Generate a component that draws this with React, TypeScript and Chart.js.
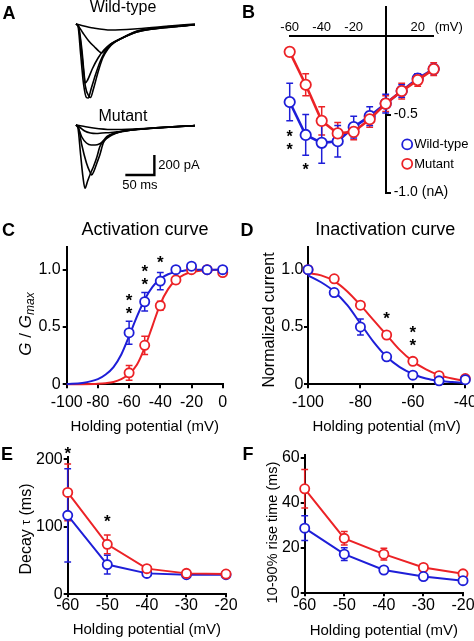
import React, { useEffect, useRef } from 'react';
import { Chart, registerables } from 'chart.js';
Chart.register(...registerables);

const FONT = "'Liberation Sans', Arial, Helvetica, sans-serif";
const BLUE = '#1e1ed8';
const RED = '#ec2226';

type Pt = [number, number];

// ---------- Panel A: current traces (time ms, current pA) ----------
const WT_TRACE_1: Pt[] = [[0,0],[3.4,-20],[8,-300],[13,-600],[18,-735],[21,-740],[26,-650],[34,-500],[42,-370],[50,-280],[60,-210],[76,-150],[105,-70],[153,-30],[205,-5]];
const WT_TRACE_2: Pt[] = [[0,0],[4,-20],[10,-300],[16,-620],[22,-720],[25,-735],[30,-650],[38,-480],[46,-340],[55,-250],[65,-190],[80,-140],[105,-75],[153,-35],[205,-8]];
const WT_TRACE_3: Pt[] = [[0,0],[4,-20],[10,-250],[14,-500],[16,-590],[20,-560],[28,-450],[38,-340],[48,-260],[60,-200],[76,-150],[105,-80],[153,-35],[205,-8]];
const WT_TRACE_4: Pt[] = [[0,0],[4,-20],[12,-90],[22,-170],[32,-230],[40,-275],[44,-290],[50,-260],[60,-200],[76,-150],[105,-80],[153,-38],[205,-10]];
const WT_TRACE_5: Pt[] = [[0,0],[10,-15],[30,-40],[60,-60],[100,-50],[150,-25],[205,0]];
const MUT_TRACE_1: Pt[] = [[0,0],[3,-20],[8,-300],[12,-520],[15.5,-633],[20,-560],[26,-470],[30,-417],[36,-320],[41,-217],[47,-160],[53,-117],[60,-95],[76,-67],[133,-30],[205,-5]];
const MUT_TRACE_2: Pt[] = [[0,0],[4,-20],[10,-200],[18,-380],[24,-470],[27,-500],[31,-460],[36,-380],[41,-300],[47,-180],[53,-130],[59,-100],[76,-67],[133,-32],[205,-6]];
const MUT_TRACE_3: Pt[] = [[0,0],[4,-30],[10,-120],[18,-180],[26,-200],[33,-200],[40,-190],[47,-160],[55,-125],[62,-100],[76,-70],[133,-33],[205,-7]];
const MUT_TRACE_4: Pt[] = [[0,0],[6,-20],[15,-60],[25,-80],[35,-85],[45,-80],[60,-75],[76,-65],[133,-30],[205,-6]];
const MUT_TRACE_5: Pt[] = [[0,0],[10,-10],[30,-30],[60,-45],[100,-40],[150,-25],[205,-5]];
const WT_TRACES = [WT_TRACE_1, WT_TRACE_2, WT_TRACE_3, WT_TRACE_4, WT_TRACE_5];
const MUT_TRACES = [MUT_TRACE_1, MUT_TRACE_2, MUT_TRACE_3, MUT_TRACE_4, MUT_TRACE_5];
const SCALE_BAR_T = [85, 135, 135];
const SCALE_BAR_PA = [-500, -500, -300];

// ---------- Panel B: I-V ----------
const B_V = [-60, -50, -40, -30, -20, -10, 0, 10, 20, 30];
const B_WT = [-0.42, -0.63, -0.68, -0.67, -0.58, -0.51, -0.43, -0.35, -0.27, -0.21];
const B_WT_ERR = [0.12, 0.13, 0.13, 0.1, 0.07, 0.06, 0.06, 0.04, 0.03, 0.03];
const B_MUT = [-0.10, -0.31, -0.54, -0.62, -0.61, -0.53, -0.43, -0.35, -0.28, -0.21];
const B_MUT_ERR = [0, 0.07, 0.09, 0.07, 0.05, 0.05, 0.05, 0.05, 0.04, 0.04];
const B_X_TICKS = [-60, -40, -20, 20];
const B_Y_TICKS = [-0.5, -1.0];
const B_STARS: Pt[] = [[-60, -0.62], [-60, -0.70], [-50, -0.83]];

// ---------- Panel C: activation ----------
const C_V = [-60, -50, -40, -30, -20, -10, 0];
const C_WT = [0.45, 0.72, 0.90, 1.0, 1.03, 1.0, 1.0];
const C_WT_ERR = [0.10, 0.08, 0.075, 0.02, 0.02, 0.02, 0.02];
const C_MUT = [0.10, 0.34, 0.685, 0.91, 1.0, 1.0, 0.975];
const C_MUT_ERR = [0.065, 0.08, 0.04, 0.03, 0.02, 0.02, 0.02];
const C_FIT_V = [-100, -90, -80, -75, -70, -65, -60, -55, -50, -45, -40, -35, -30, -25, -20, -10, 0];
const C_FIT_WT = [0.003, 0.012, 0.045, 0.085, 0.15, 0.26, 0.42, 0.59, 0.74, 0.85, 0.92, 0.96, 0.98, 0.99, 1.0, 1.0, 1.0];
const C_FIT_MUT = [0, 0.001, 0.005, 0.01, 0.02, 0.045, 0.09, 0.17, 0.32, 0.51, 0.70, 0.83, 0.91, 0.955, 0.98, 0.995, 1.0];
const C_X_TICKS = [-100, -80, -60, -40, -20, 0];
const C_Y_TICKS = [0, 0.5, 1.0];
const C_STARS: Pt[] = [[-60, 0.767], [-60, 0.656], [-50, 1.02], [-50, 0.907], [-40, 1.093]];

// ---------- Panel D: inactivation ----------
const D_V = [-100, -90, -80, -70, -60, -50, -40];
const D_WT = [1.0, 0.80, 0.50, 0.24, 0.08, 0.03, 0.04];
const D_WT_ERR = [0.01, 0.03, 0.07, 0.02, 0.02, 0.01, 0.02];
const D_MUT = [1.0, 0.92, 0.69, 0.43, 0.20, 0.075, 0.05];
const D_MUT_ERR = [0.01, 0.02, 0.03, 0.02, 0.02, 0.01, 0.02];
const D_FIT_V = [-100, -95, -90, -85, -80, -75, -70, -65, -60, -55, -50, -45, -40];
const D_FIT_WT = [0.95, 0.89, 0.81, 0.69, 0.53, 0.37, 0.24, 0.15, 0.09, 0.05, 0.03, 0.02, 0.01];
const D_FIT_MUT = [0.97, 0.95, 0.90, 0.81, 0.69, 0.56, 0.43, 0.30, 0.20, 0.13, 0.08, 0.05, 0.03];
const D_X_TICKS = [-100, -80, -60, -40];
const D_Y_TICKS = [0, 0.5, 1.0];
const D_STARS: Pt[] = [[-70, 0.606], [-60, 0.49], [-60, 0.373]];

// ---------- Panel E: decay tau ----------
const E_V = [-60, -50, -40, -30, -20];
const E_WT = [117, 44, 31, 29, 29];
const E_WT_ERR = [69, 14, 3, 2, 2];
const E_MUT = [151, 74, 38, 31, 30];
const E_MUT_ERR = [42, 14, 4, 2, 2];
const E_X_TICKS = [-60, -50, -40, -30, -20];
const E_Y_TICKS = [0, 100, 200];
const E_STARS: Pt[] = [[-60, 214], [-50, 114]];

// ---------- Panel F: rise time ----------
const F_V = [-60, -50, -40, -30, -20];
const F_WT = [28.8, 17.3, 10.3, 7.4, 5.6];
const F_WT_ERR = [5.5, 2.8, 1, 1, 0.8];
const F_MUT = [46.2, 24.3, 17.3, 11.4, 8.6];
const F_MUT_ERR = [8.5, 3, 2.6, 1, 1];
const F_X_TICKS = [-60, -50, -40, -30, -20];
const F_Y_TICKS = [0, 20, 40, 60];

// ---------- helpers ----------
const f = (size: number, style = '') => `${style} ${size}px ${FONT}`.trim();

const errorBarPlugin = {
  id: 'errbars',
  beforeDatasetsDraw(chart: any) {
    const ctx = chart.ctx;
    chart.data.datasets.forEach((ds: any, i: number) => {
      const errs = ds.errors;
      if (!errs) return;
      const meta = chart.getDatasetMeta(i);
      const xs = chart.scales[meta.xAxisID];
      const ys = chart.scales[meta.yAxisID];
      ctx.save();
      ctx.strokeStyle = ds.borderColor;
      ctx.lineWidth = 1.5;
      ds.data.forEach((p: any, j: number) => {
        const e = errs[j];
        if (!e) return;
        const x = xs.getPixelForValue(p.x);
        const y1 = ys.getPixelForValue(p.y + e);
        const y2 = ys.getPixelForValue(p.y - e);
        ctx.beginPath();
        ctx.moveTo(x, y1); ctx.lineTo(x, y2);
        ctx.moveTo(x - 3.4, y1); ctx.lineTo(x + 3.4, y1);
        ctx.moveTo(x - 3.4, y2); ctx.lineTo(x + 3.4, y2);
        ctx.stroke();
      });
      ctx.restore();
    });
  },
};

function drawStars(chart: any, stars: Pt[], size: number) {
  const ctx = chart.ctx;
  const xs = chart.scales.x, ys = chart.scales.y;
  ctx.save();
  ctx.fillStyle = '#000';
  ctx.font = f(size, 'bold');
  ctx.textAlign = 'center';
  ctx.textBaseline = 'alphabetic';
  stars.forEach(([vx, vy]) => ctx.fillText('*', xs.getPixelForValue(vx), ys.getPixelForValue(vy) + 0.56 * size));
  ctx.restore();
}

type Part = { text: string; font: string; dy?: number };
function drawVText(ctx: CanvasRenderingContext2D, cx: number, cy: number, parts: Part[]) {
  ctx.save();
  ctx.translate(cx, cy);
  ctx.rotate(-Math.PI / 2);
  ctx.fillStyle = '#000';
  ctx.textBaseline = 'middle';
  ctx.textAlign = 'left';
  let total = 0;
  parts.forEach((p) => { ctx.font = p.font; total += ctx.measureText(p.text).width; });
  let x = -total / 2;
  parts.forEach((p) => { ctx.font = p.font; ctx.fillText(p.text, x, p.dy || 0); x += ctx.measureText(p.text).width; });
  ctx.restore();
}

function series(label: string, xs: number[], ys: number[], errs: number[] | null, color: string, lw: number, r: number) {
  return {
    label,
    data: xs.map((x, i) => ({ x, y: ys[i] })),
    errors: errs,
    borderColor: color,
    backgroundColor: '#fff',
    pointBackgroundColor: '#fff',
    pointBorderColor: color,
    pointRadius: r,
    pointBorderWidth: 1.8,
    borderWidth: lw,
    showLine: true,
    clip: false,
  };
}
function points(label: string, xs: number[], ys: number[], errs: number[], color: string) {
  return { ...series(label, xs, ys, errs, color, 2, 4.6), showLine: false };
}
function fit(label: string, xs: number[], ys: number[], color: string) {
  return {
    label,
    data: xs.map((x, i) => ({ x, y: ys[i] })),
    borderColor: color,
    borderWidth: 2,
    pointRadius: 0,
    showLine: true,
    cubicInterpolationMode: 'monotone',
    clip: false,
  };
}

function xAxis(min: number, max: number, ticks: number[], height: number, tickLen: number, tickPad: number, titlePad: number) {
  return {
    type: 'linear', min, max, position: 'bottom',
    border: { display: true, color: '#000', width: 2 },
    grid: { display: true, drawOnChartArea: false, drawTicks: true, tickLength: tickLen, color: '#000', lineWidth: 2 },
    ticks: { color: '#000', font: { family: FONT, size: 16 }, padding: tickPad, maxRotation: 0, autoSkip: false, callback: (v: number) => String(v) },
    title: { display: true, text: 'Holding potential (mV)', color: '#000', font: { family: FONT, size: 15 }, padding: { top: 0, bottom: titlePad } },
    afterBuildTicks: (s: any) => { s.ticks = ticks.map((value) => ({ value })); },
    afterFit: (s: any) => { s.height = height; s.paddingLeft = 0; s.paddingRight = 0; },
  };
}
function yAxis(min: number, max: number, ticks: number[], width: number, tickPad: number, fmt: (v: number) => string) {
  return {
    type: 'linear', min, max, position: 'left',
    border: { display: true, color: '#000', width: 2 },
    grid: { display: true, drawOnChartArea: false, drawTicks: true, tickLength: 4, color: '#000', lineWidth: 2 },
    ticks: { color: '#000', font: { family: FONT, size: 16 }, padding: tickPad, callback: fmt },
    afterBuildTicks: (s: any) => { s.ticks = ticks.map((value) => ({ value })); },
    afterFit: (s: any) => { s.width = width; s.paddingTop = 0; s.paddingBottom = 0; },
  };
}

const baseOptions = (padding: any) => ({
  responsive: false,
  animation: false,
  events: [],
  layout: { padding },
  plugins: { legend: { display: false }, tooltip: { enabled: false }, title: { display: false } },
});

// ---------- chart configs ----------
function makeA(): any {
  const tr = (t: Pt[], axis: string) => ({
    data: t.map(([x, y]) => ({ x, y })), yAxisID: axis, borderColor: '#000', borderWidth: 1.6,
    pointRadius: 0, showLine: true, cubicInterpolationMode: 'monotone', clip: false,
  });
  return {
    type: 'scatter',
    data: {
      datasets: [
        ...WT_TRACES.map((t) => tr(t, 'yWT')),
        ...MUT_TRACES.map((t) => tr(t, 'yMut')),
        { data: SCALE_BAR_T.map((x, i) => ({ x, y: SCALE_BAR_PA[i] })), yAxisID: 'yMut', borderColor: '#000', borderWidth: 2.4, pointRadius: 0, showLine: true, tension: 0, clip: false },
      ],
    },
    options: {
      ...baseOptions({ left: 76, right: 42, top: 0, bottom: 0 }),
      scales: {
        x: { type: 'linear', display: false, min: 0, max: 205 },
        y: { type: 'linear', display: false },
        yWT: { type: 'linear', display: false, min: -1760, max: 240 },
        yMut: { type: 'linear', display: false, min: -750, max: 1250 },
      },
    },
    plugins: [{
      id: 'aText',
      afterDatasetsDraw(chart: any) {
        const ctx = chart.ctx;
        const xs = chart.scales.x, ym = chart.scales.yMut;
        ctx.save();
        ctx.fillStyle = '#000';
        ctx.font = f(13);
        ctx.textBaseline = 'middle';
        ctx.textAlign = 'left';
        ctx.fillText('200 pA', xs.getPixelForValue(SCALE_BAR_T[2]) + 4, ym.getPixelForValue((SCALE_BAR_PA[1] + SCALE_BAR_PA[2]) / 2));
        ctx.textAlign = 'center';
        ctx.fillText('50 ms', (xs.getPixelForValue(SCALE_BAR_T[0]) + xs.getPixelForValue(SCALE_BAR_T[1])) / 2, ym.getPixelForValue(SCALE_BAR_PA[0]) + 10);
        ctx.font = f(16);
        ctx.fillText('Wild-type', 123, 8);
        ctx.fillText('Mutant', 123, 117);
        ctx.restore();
      },
    }],
  };
}

function makeB(): any {
  return {
    type: 'scatter',
    data: {
      datasets: [
        series('Mutant', B_V, B_MUT, B_MUT_ERR, RED, 2.6, 5.2),
        series('Wild-type', B_V, B_WT, B_WT_ERR, BLUE, 2.6, 5.2),
      ],
    },
    options: {
      ...baseOptions({ left: 52.7, right: 40.3, top: 3.3, bottom: 7 }),
      scales: {
        x: {
          type: 'linear', min: -60, max: 30, position: { y: 0 },
          border: { display: true, color: '#000', width: 2 },
          grid: { display: false },
          ticks: { display: false },
          afterBuildTicks: (s: any) => { s.ticks = B_X_TICKS.map((value) => ({ value })); },
          afterFit: (s: any) => { s.height = 0; s.paddingLeft = 0; s.paddingRight = 0; },
        },
        y: {
          type: 'linear', min: -1.0, max: 0.186, position: { x: 0 },
          border: { display: true, color: '#000', width: 2 },
          grid: { display: true, drawOnChartArea: false, drawTicks: true, tickLength: -6, color: '#000', lineWidth: 2 },
          ticks: { display: false },
          afterBuildTicks: (s: any) => { s.ticks = B_Y_TICKS.map((value) => ({ value })); },
          afterFit: (s: any) => { s.width = 0; s.paddingTop = 0; s.paddingBottom = 0; },
        },
      },
    },
    plugins: [errorBarPlugin, {
      id: 'bText',
      afterDatasetsDraw(chart: any) {
        const ctx = chart.ctx;
        const xs = chart.scales.x, ys = chart.scales.y;
        const x0 = xs.getPixelForValue(0);
        const yAx = ys.getPixelForValue(0);
        ctx.save();
        ctx.fillStyle = '#000';
        ctx.textBaseline = 'middle';
        ctx.textAlign = 'center';
        ctx.font = f(13);
        B_X_TICKS.forEach((v) => ctx.fillText(String(v), xs.getPixelForValue(v), yAx - 9));
        ctx.textAlign = 'left';
        ctx.fillText('(mV)', xs.getPixelForValue(30) + 1, yAx - 9);
        ctx.font = f(14);
        ctx.fillText('-0.5', x0 + 8, ys.getPixelForValue(B_Y_TICKS[0]));
        ctx.fillText('-1.0 (nA)', x0 + 8, ys.getPixelForValue(B_Y_TICKS[1]) - 1);
        // legend
        const lx = chart.chartArea.right - 26.5;
        const ly = ys.getPixelForValue(-0.69);
        const items: [string, string][] = [['Wild-type', BLUE], ['Mutant', RED]];
        items.forEach(([label, color], k) => {
          const y = ly + k * 19.4;
          ctx.beginPath();
          ctx.arc(lx, y, 5, 0, Math.PI * 2);
          ctx.fillStyle = '#fff';
          ctx.fill();
          ctx.lineWidth = 1.8;
          ctx.strokeStyle = color;
          ctx.stroke();
          ctx.fillStyle = '#000';
          ctx.font = f(13);
          ctx.fillText(label, lx + 7, y + 0.5);
        });
        ctx.restore();
        drawStars(chart, B_STARS, 16);
      },
    }],
  };
}

function makeC(): any {
  return {
    type: 'scatter',
    data: {
      datasets: [
        points('Wild-type', C_V, C_WT, C_WT_ERR, BLUE),
        points('Mutant', C_V, C_MUT, C_MUT_ERR, RED),
        fit('Wild-type fit', C_FIT_V, C_FIT_WT, BLUE),
        fit('Mutant fit', C_FIT_V, C_FIT_MUT, RED),
      ],
    },
    options: {
      ...baseOptions({ left: 0, right: 14.3, top: 10.7, bottom: 0 }),
      scales: {
        x: xAxis(-100, 0, C_X_TICKS, 51.7, 4, 5, 0.5),
        y: yAxis(0, 1.2, C_Y_TICKS, 66.7, 2, (v) => (v === 0 ? '0' : v.toFixed(1))),
      },
    },
    plugins: [errorBarPlugin, {
      id: 'cText',
      afterDatasetsDraw(chart: any) {
        drawStars(chart, C_STARS, 17);
        drawVText(chart.ctx, 26.7, 88, [
          { text: 'G', font: f(17, 'italic') },
          { text: ' / ', font: f(17) },
          { text: 'G', font: f(17, 'italic') },
          { text: 'max', font: f(12, 'italic'), dy: 4 },
        ]);
      },
    }],
  };
}

function makeD(): any {
  return {
    type: 'scatter',
    data: {
      datasets: [
        points('Wild-type', D_V, D_WT, D_WT_ERR, BLUE),
        points('Mutant', D_V, D_MUT, D_MUT_ERR, RED),
        fit('Wild-type fit', D_FIT_V, D_FIT_WT, BLUE),
        fit('Mutant fit', D_FIT_V, D_FIT_MUT, RED),
      ],
    },
    options: {
      ...baseOptions({ left: 0, right: 8.7, top: 10.7, bottom: 0 }),
      scales: {
        x: xAxis(-100, -40, D_X_TICKS, 51.7, 4, 5, 0.5),
        y: yAxis(0, 1.2, D_Y_TICKS, 71, 0.5, (v) => (v === 0 ? '0' : v.toFixed(1))),
      },
    },
    plugins: [errorBarPlugin, {
      id: 'dText',
      afterDatasetsDraw(chart: any) {
        drawStars(chart, D_STARS, 17);
        drawVText(chart.ctx, 33, 84, [{ text: 'Normalized current', font: f(16) }]);
      },
    }],
  };
}

function makeE(): any {
  return {
    type: 'scatter',
    data: {
      datasets: [
        series('Mutant', E_V, E_MUT, E_MUT_ERR, RED, 2, 4.6),
        series('Wild-type', E_V, E_WT, E_WT_ERR, BLUE, 2, 4.6),
      ],
    },
    options: {
      ...baseOptions({ left: 0, right: 11, top: 16.6, bottom: 0 }),
      scales: {
        x: xAxis(-60, -20, E_X_TICKS, 46.7, 3, -1, 2),
        y: yAxis(0, 204, E_Y_TICKS, 67.7, 1, (v) => String(v)),
      },
    },
    plugins: [errorBarPlugin, {
      id: 'eText',
      afterDatasetsDraw(chart: any) {
        drawStars(chart, E_STARS, 17);
        drawVText(chart.ctx, 27, 89, [
          { text: 'Decay ', font: f(16) },
          { text: 'τ', font: f(12) },
          { text: ' (ms)', font: f(16) },
        ]);
      },
    }],
  };
}

function makeF(): any {
  return {
    type: 'scatter',
    data: {
      datasets: [
        series('Wild-type', F_V, F_WT, F_WT_ERR, BLUE, 2, 4.6),
        series('Mutant', F_V, F_MUT, F_MUT_ERR, RED, 2, 4.6),
      ],
    },
    options: {
      ...baseOptions({ left: 0, right: 11, top: 15.3, bottom: 0 }),
      scales: {
        x: xAxis(-60, -20, F_X_TICKS, 47.7, 3, 0, 1.3),
        y: yAxis(0, 61, F_Y_TICKS, 67.7, 1, (v) => String(v)),
      },
    },
    plugins: [errorBarPlugin, {
      id: 'fText',
      afterDatasetsDraw(chart: any) {
        drawVText(chart.ctx, 36, 92.5, [{ text: '10-90% rise time (ms)', font: f(14.5) }]);
      },
    }],
  };
}

// ---------- components ----------
function ChartBox({ left, top, width, height, make }: { left: number; top: number; width: number; height: number; make: () => any }) {
  const ref = useRef<HTMLCanvasElement | null>(null);
  useEffect(() => {
    if (!ref.current) return;
    const chart = new Chart(ref.current, make());
    return () => chart.destroy();
  }, []);
  return (
    <canvas
      ref={ref}
      width={width}
      height={height}
      style={{ position: 'absolute', left, top, width, height, display: 'block' }}
    />
  );
}

function Label({ x, y, text, size, bold = false }: { x: number; y: number; text: string; size: number; bold?: boolean }) {
  return (
    <div
      style={{
        position: 'absolute', left: x, top: y, transform: 'translate(-50%, -50%)',
        fontFamily: FONT, fontSize: size, fontWeight: bold ? 'bold' : 'normal',
        lineHeight: 1, whiteSpace: 'nowrap', color: '#000',
      }}
    >
      {text}
    </div>
  );
}

export default function App() {
  return (
    <div style={{ position: 'absolute', left: 0, top: 0, width: 474, height: 641, overflow: 'hidden', background: '#fff' }}>
      <ChartBox left={0} top={0} width={237} height={200} make={makeA} />
      <ChartBox left={237} top={0} width={237} height={200} make={makeB} />
      <ChartBox left={0} top={236} width={237} height={200} make={makeC} />
      <ChartBox left={237} top={236} width={237} height={200} make={makeD} />
      <ChartBox left={0} top={440} width={237} height={201} make={makeE} />
      <ChartBox left={237} top={440} width={237} height={201} make={makeF} />
      <Label x={9} y={13} text="A" size={18} bold />
      <Label x={248.5} y={11.5} text="B" size={18} bold />
      <Label x={8.5} y={230} text="C" size={18} bold />
      <Label x={247} y={230} text="D" size={18} bold />
      <Label x={7} y={454} text="E" size={18} bold />
      <Label x={248} y={454} text="F" size={18} bold />
      <Label x={145} y={229} text="Activation curve" size={18} />
      <Label x={385.3} y={229} text="Inactivation curve" size={18} />
    </div>
  );
}
